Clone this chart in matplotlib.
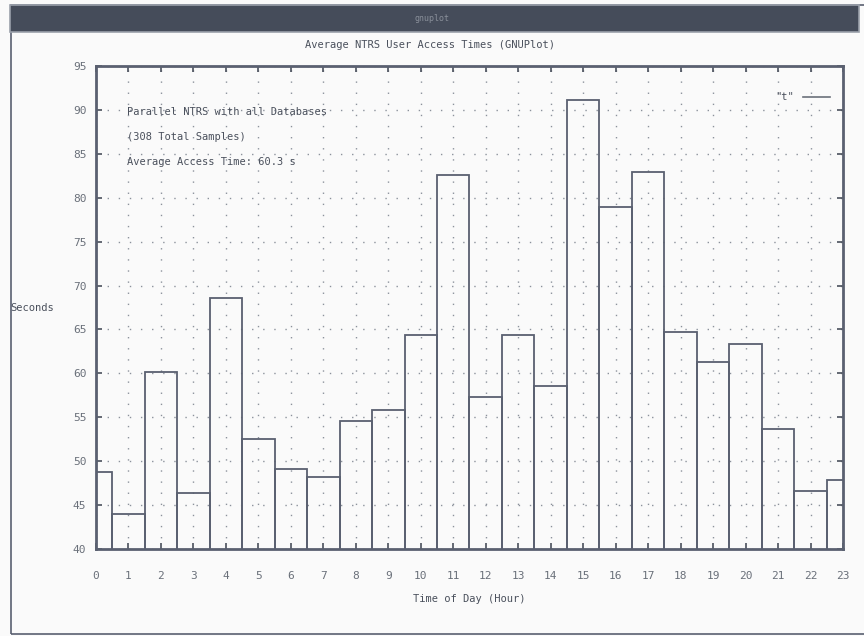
"""
Average NTRS user access times per hour (gnuplot screenshot look-alike)
"""
import numpy as np
from matplotlib import pyplot as plt
from matplotlib.patches import Rectangle
from matplotlib.lines import Line2D

hours = list(range(24))
access_times = [48.8, 44.0, 60.1, 46.4, 68.6, 52.5, 49.1, 48.2, 54.6, 55.8,
                64.4, 82.6, 57.3, 64.4, 58.6, 91.1, 78.9, 82.9, 64.7, 61.3,
                63.4, 53.7, 46.6, 47.9]
y_ticks = list(range(40, 100, 5))
notes = ['Parallel NTRS with all Databases',
         '(308 Total Samples)',
         'Average Access Time: 60.3 s']

mono = 'DejaVu Sans Mono'
ink = '#4a505c'

fig = plt.figure(figsize=(8.64, 6.36), dpi=100)
fig.patch.set_facecolor('#fafafa')

# window frame
fig.patches.append(Rectangle((0.013, 0.003), 0.99, 0.989, transform=fig.transFigure,
                             facecolor='none', edgecolor='#5a6070', lw=1.2))
fig.patches.append(Rectangle((0.012, 0.950), 0.982, 0.042, transform=fig.transFigure,
                             facecolor='#454c5a', edgecolor='#9aa0aa', lw=1.2))
fig.text(0.5, 0.971, 'gnuplot', color='#8a909a', fontsize=6, family=mono,
         ha='center', va='center')

ax = fig.add_axes([0.1111, 0.1368, 0.8646, 0.7594])
ax.set_facecolor('#fafafa')

ax.bar(hours, access_times, width=1.0, fill=False, edgecolor='#5a6070',
       linewidth=1.3, clip_on=True)

ax.set_xlim(0, 23)
ax.set_ylim(40, 95)
ax.set_xticks(hours)
ax.set_yticks(y_ticks)
ax.grid(True, color='#8c929c', linestyle=(0, (1, 7)), linewidth=1.0)
ax.set_axisbelow(True)
ax.tick_params(direction='in', length=4, width=1.2, colors=ink, labelsize=8,
               top=True, right=True)
ax.tick_params(axis='x', pad=16)
ax.tick_params(axis='y', pad=7)
for lab in ax.get_xticklabels() + ax.get_yticklabels():
    lab.set_family(mono)
    lab.set_color('#6a707a')
for sp in ax.spines.values():
    sp.set_color('#5a6070')
    sp.set_linewidth(2.0)

fig.text(0.498, 0.930, 'Average NTRS User Access Times (GNUPlot)', family=mono,
         fontsize=7.5, color=ink, ha='center', va='center')
fig.text(0.012, 0.516, 'Seconds', family=mono, fontsize=7.5, color=ink,
         ha='left', va='center')
ax.set_xlabel('Time of Day (Hour)', family=mono, fontsize=7.5, color=ink, labelpad=9)

for i, note in enumerate(notes):
    ax.text(0.95, 89.8 - 2.85 * i, note, family=mono, fontsize=7.5, color=ink,
            ha='left', va='center')

leg = ax.legend(handles=[Line2D([], [], color='#6a707a', lw=1.2)], labels=['"t"'],
                loc='upper right', bbox_to_anchor=(0.995, 0.965), markerfirst=False,
                frameon=False, handlelength=2.6, prop={'family': mono, 'size': 7.5})
for t in leg.get_texts():
    t.set_color(ink)

plt.savefig('out.png', dpi=100, facecolor=fig.get_facecolor())
